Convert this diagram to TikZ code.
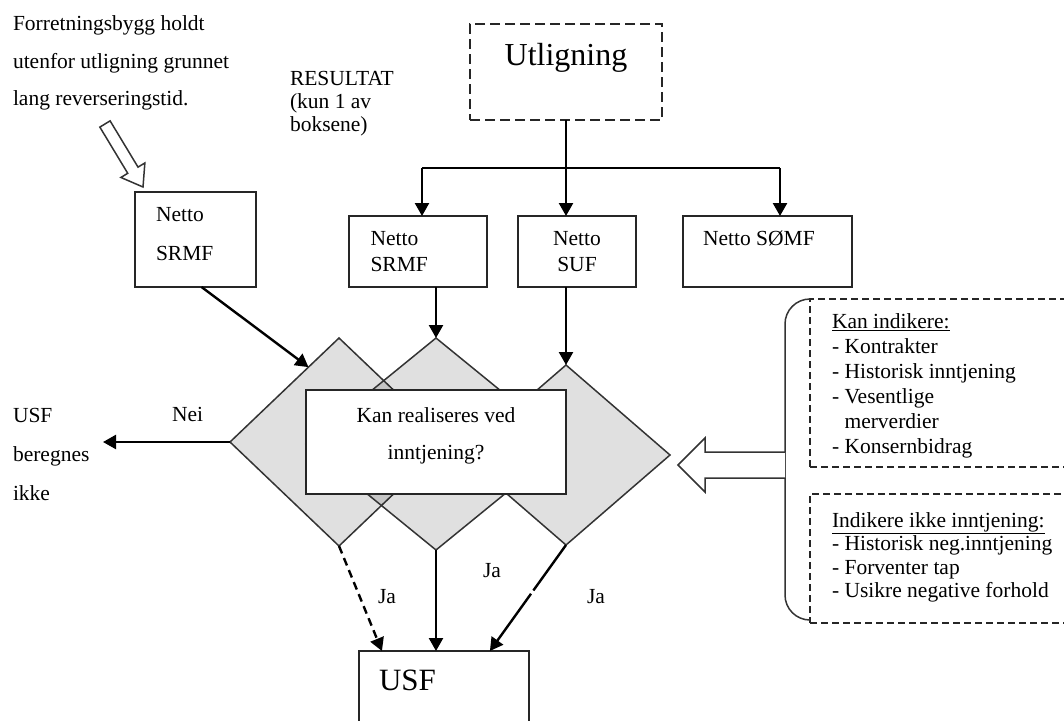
\documentclass[tikz,border=0pt]{standalone}
\usepackage{fontspec}
\setmainfont{Liberation Serif}
\usetikzlibrary{arrows.meta,shapes.geometric,calc}

% Multi-line text nodes are anchored at the baseline of their last line.
\tikzset{
  txt/.style={inner sep=0pt, outer sep=0pt, anchor=base west, align=left,
    font=\fontsize{21.5}{25}\selectfont},
  ctxt/.style={txt, anchor=base, align=center},
  solidbox/.style={draw=black!85, line width=1.5pt, inner sep=0pt, outer sep=0pt,
    anchor=north west},
  dashbox/.style={solidbox, line width=1.3pt, dash pattern=on 7pt off 4pt},
  conn/.style={line width=2.4pt},
  arr/.style={conn, -{Triangle[length=13pt,width=14pt]}},
  dia/.style={diamond, draw=black!80, line width=1.5pt, fill=black,
    fill opacity=0.12, draw opacity=1, inner sep=0pt, outer sep=0pt},
  hollow/.style={draw=black!80, line width=1.5pt, fill=white, line join=miter}
}

\begin{document}
\begin{tikzpicture}[x=1pt,y=-1pt]
\useasboundingbox (0,0) rectangle (1064,720);
\clip (0,0) rectangle (1064,720);

% ---- top: Utligning and the four result boxes ----
\node[solidbox, dash pattern=on 10pt off 5pt, line width=1.8pt,
      minimum width=192pt, minimum height=96pt] (utl) at (470,24) {};
\node[ctxt, font=\fontsize{32}{36}\selectfont] (utltxt) at (566,65) {Utligning};

\node[solidbox, minimum width=121pt, minimum height=95pt] (b1) at (135,192) {};
\node[solidbox, minimum width=138pt, minimum height=71pt] (b2) at (349,216) {};
\node[solidbox, minimum width=118pt, minimum height=71pt] (b3) at (518,216) {};
\node[solidbox, minimum width=169pt, minimum height=71pt] (b4) at (683,216) {};

\node[txt, font=\fontsize{21.5}{39}\selectfont] (b1txt) at (156,260) {Netto\\SRMF};
\node[txt, font=\fontsize{21.5}{26}\selectfont] (b2txt) at (370.5,271) {Netto\\SRMF};
\node[ctxt, font=\fontsize{21.5}{26}\selectfont] (b3txt) at (577,271) {Netto\\SUF};
\node[txt] (b4txt) at (703,245) {Netto SØMF};

\node[txt, font=\fontsize{21.5}{37.3}\selectfont] (note) at (13,105.3)
  {Forretningsbygg holdt\\utenfor utligning grunnet\\lang reverseringstid.};
\node[txt, font=\fontsize{21.5}{23}\selectfont] (res) at (290,131)
  {RESULTAT\\(kun 1 av\\boksene)};

% distribution from Utligning
\coordinate (jl) at (422,168);
\coordinate (jr) at (780,168);
\draw[conn] (utl.south) -- (utl.south |- jl);
\draw[conn] (jl) -- (jr);
\draw[arr] (jl) -- (jl |- b2.north);
\draw[arr] (utl.south |- jl) -- (utl.south |- b3.north);
\draw[arr] (jr) -- (jr |- b4.north);

% hollow arrow from the note down to the left box
\begin{scope}[shift={($(b1.north west)+(8,-5)$)}, rotate=-58.9]
  \draw[hollow] (0,0) -- (-19.6,14) -- (-19.6,6) -- (-73.6,6) -- (-73.6,-6)
    -- (-19.6,-6) -- (-19.6,-14) -- cycle;
\end{scope}

% ---- decision diamonds ----
\node[dia, minimum width=218pt, minimum height=208pt] (d1) at (339,442) {};
\node[dia, minimum width=260pt, minimum height=212pt] (d2) at (436,444) {};
\node[dia, minimum width=208pt, minimum height=180pt] (d3) at (566,455) {};

\node[solidbox, fill=white, minimum width=260pt, minimum height=104pt] (q) at (306,390) {};
\node[ctxt, font=\fontsize{21.5}{37}\selectfont] (qtxt) at (436,459)
  {Kan realiseres ved\\inntjening?};

\draw[arr] ($(b1.south west)!0.55!(b1.south east)$) -- ($(d1.north)!0.28!(d1.west)$);
\draw[arr] (b2.south -| d2.north) -- (d2.north);
\draw[arr] (b3.south -| d3.north) -- (d3.north);

% ---- "no" branch ----
\node[txt, font=\fontsize{21.5}{39}\selectfont] (usfno) at (13,500) {USF\\beregnes\\ikke};
\node[txt] (nei) at (172,421.7) {Nei};
\coordinate (neitip) at (103,442);
\draw[arr] (d1.west) -- (neitip);

% ---- "yes" branches into USF ----
\node[solidbox, minimum width=170pt, minimum height=100pt] (usf) at (359,651) {};
\node[txt, font=\fontsize{31}{34}\selectfont] (usftxt) at (379,690) {USF};

\draw[arr, dash pattern=on 8pt off 5pt] (d1.south) -- ($(usf.north west)!0.135!(usf.north east)$);
\draw[arr] (d2.south) -- (d2.south |- usf.north);
\draw[arr, dash pattern=on 56pt off 4pt on 300pt] (d3.south) -- ($(usf.north west)!0.77!(usf.north east)$);

\node[ctxt] (ja1) at (387,603) {Ja};
\node[ctxt] (ja2) at (492,577) {Ja};
\node[ctxt] (ja3) at (596,603) {Ja};

% ---- indicator panels on the right ----
\node[dashbox, minimum width=270pt, minimum height=168pt] (ind1) at (810,299) {};
\node[dashbox, minimum width=270pt, minimum height=129pt] (ind2) at (810,494) {};

\node[txt, font=\fontsize{21.5}{25}\selectfont] (ind1txt) at (832,453)
  {\underline{Kan indikere:}\\- Kontrakter\\- Historisk inntjening\\- Vesentlige\\\hphantom{- }merverdier\\- Konsernbidrag};
\node[txt, font=\fontsize{21.5}{23.6}\selectfont] (ind2txt) at (832,597.8)
  {\underline{Indikere ikke inntjening:}\\- Historisk neg.inntjening\\- Forventer tap\\- Usikre negative forhold};

% bracket joining both panels
\draw[draw=black!80, line width=1.5pt, rounded corners=25pt]
  (ind1.north west) -- (785,299) -- (785,620) -- (810,620);

% hollow arrow from the bracket to the diamonds
\draw[hollow] (785,452) -- (705,452) -- (705,438) -- ($(d3.east)+(8,10)$)
  -- (705,492) -- (705,478) -- (785,478);

\end{tikzpicture}
\end{document}
